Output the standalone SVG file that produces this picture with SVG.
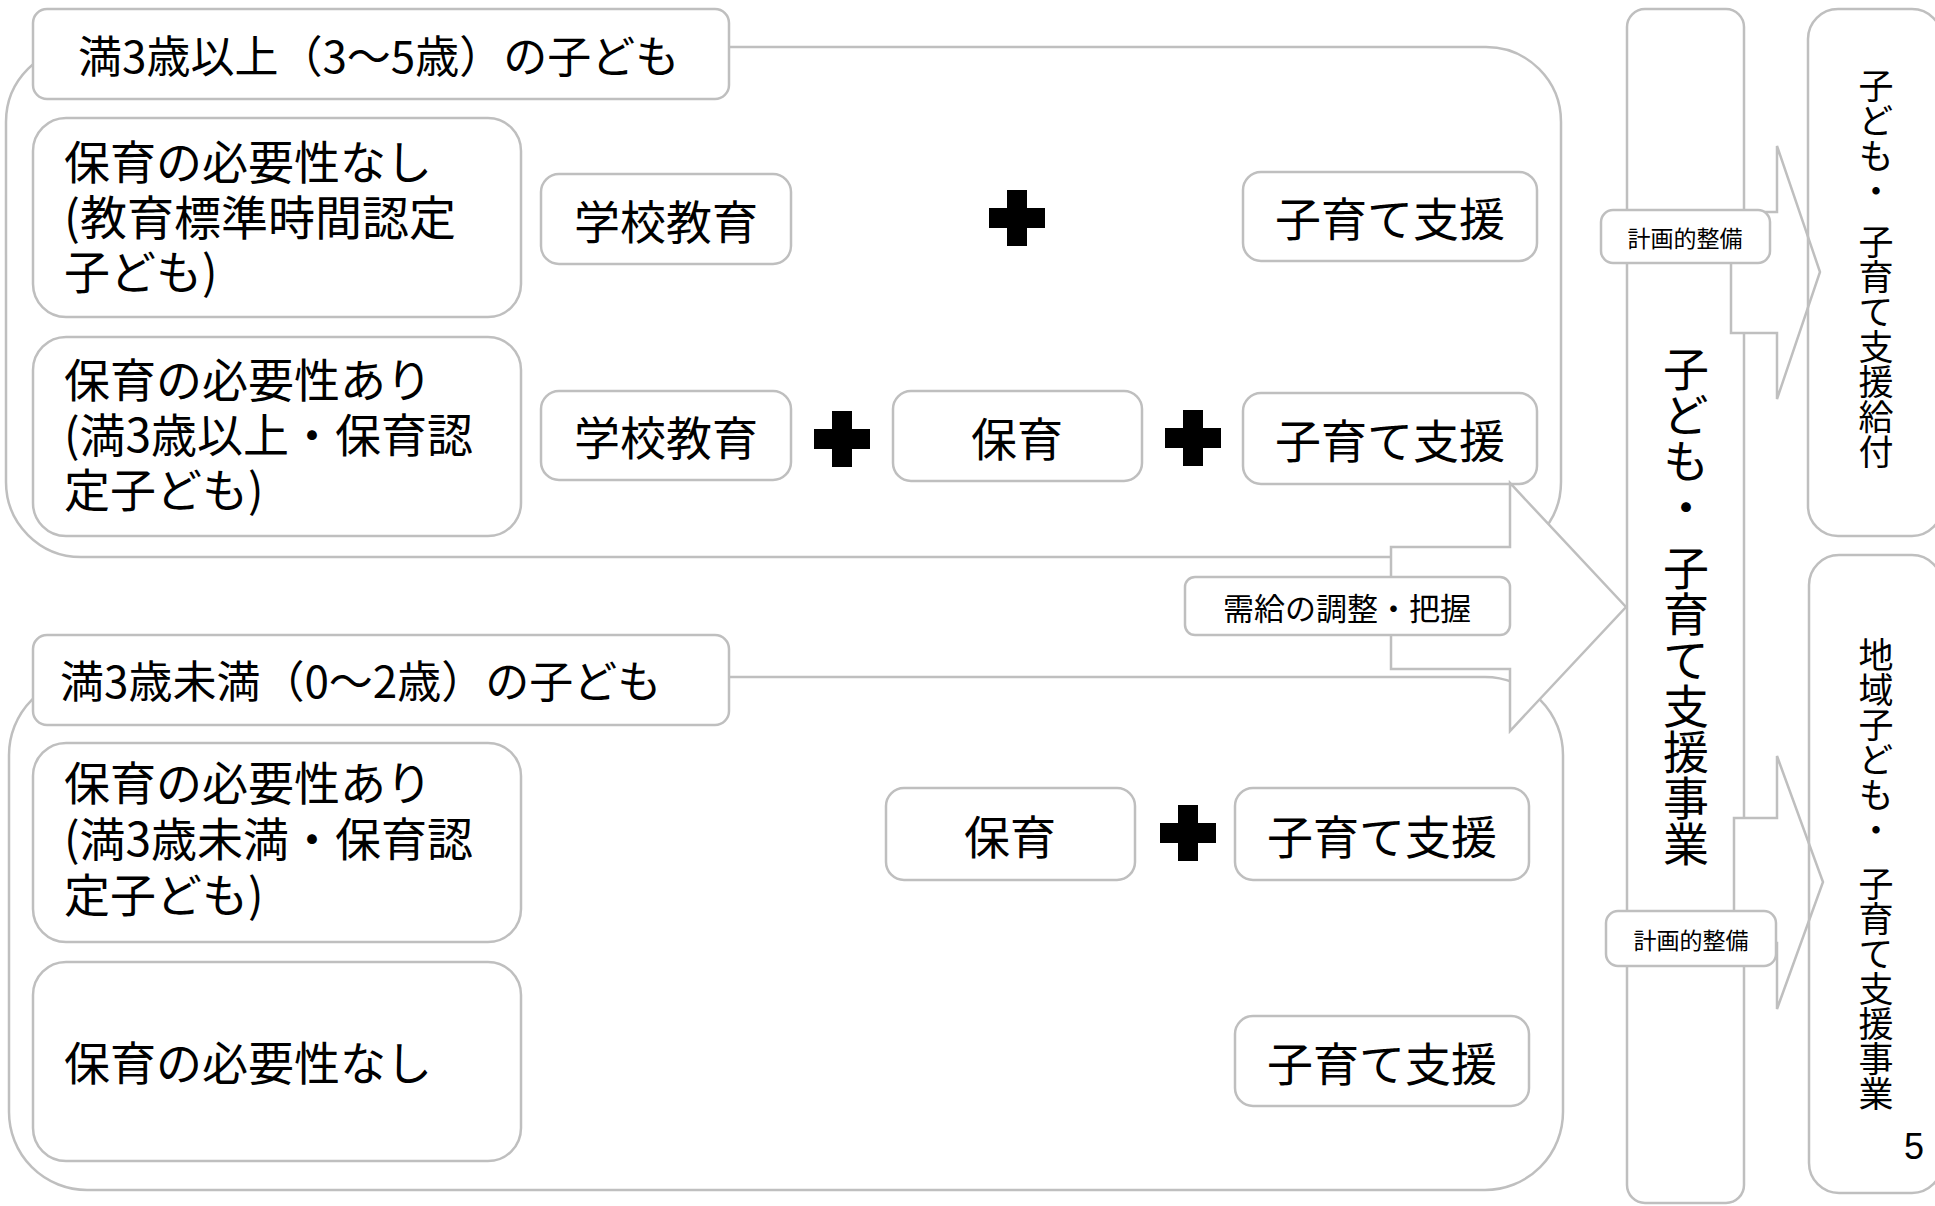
<svg xmlns="http://www.w3.org/2000/svg" width="1935" height="1206" viewBox="0 0 1935 1206">
<style>
  .box { fill: #ffffff; stroke: #bfbfbf; stroke-width: 2.5; }
  .open { fill: none; stroke: #bfbfbf; stroke-width: 2.5; }
  .arrow { fill: #ffffff; stroke: #bfbfbf; stroke-width: 2.5; stroke-linejoin: miter; }
  .t { font-family: "Noto Sans CJK JP", "Liberation Sans", sans-serif; fill: #000000; dominant-baseline: central; }
  .big { font-size: 46px; }
  .ttl { font-size: 44px; }
  .mid { text-anchor: middle; }
  .small { font-size: 23px; }
  .lbl { font-size: 31px; }
  .v { font-family: "Noto Sans CJK JP", "Liberation Sans", sans-serif; fill: #000000; writing-mode: vertical-rl; text-orientation: upright; text-anchor: start; }
  .vcol { font-size: 46px; }
  .vr { font-size: 35px; }
  .plus { fill: #000000; }
</style>
<defs>
  <path id="plusShape" d="M-10,-28 H10 V-10 H28 V10 H10 V28 H-10 V10 H-28 V-10 H-10 Z"/>
</defs>

<!-- upper group frame -->
<g id="group-over3">
  <rect class="box" x="6" y="47" width="1555" height="510" rx="75"/>
</g>
<g id="title-over3">
  <rect class="box" x="33" y="9" width="696" height="90" rx="14"/>
  <text class="t ttl" x="78" y="54">満3歳以上（3〜5歳）の子ども</text>
</g>
<g id="need-none-over3">
  <rect class="box" x="33" y="118" width="488" height="199" rx="33"/>
  <text class="t big"><tspan x="64" y="159">保育の必要性なし</tspan><tspan x="64" y="214" font-size="47">(教育標準時間認定</tspan><tspan x="64" y="269">子ども)</tspan></text>
</g>
<g id="need-yes-over3">
  <rect class="box" x="33" y="337" width="488" height="199" rx="33"/>
  <text class="t big"><tspan x="64" y="377">保育の必要性あり</tspan><tspan x="64" y="432">(満3歳以上・保育認</tspan><tspan x="64" y="487">定子ども)</tspan></text>
</g>
<g id="school-1">
  <rect class="box" x="541" y="174" width="250" height="90" rx="18"/>
  <text class="t big mid" x="666" y="219">学校教育</text>
</g>
<g id="plus-1"><use href="#plusShape" class="plus" x="1017" y="218"/></g>
<g id="support-1">
  <rect class="box" x="1243" y="172" width="294" height="89" rx="18"/>
  <text class="t big mid" x="1390" y="216">子育て支援</text>
</g>
<g id="school-2">
  <rect class="box" x="541" y="391" width="250" height="89" rx="18"/>
  <text class="t big mid" x="666" y="435">学校教育</text>
</g>
<g id="plus-2"><use href="#plusShape" class="plus" x="842" y="439"/></g>
<g id="care-1">
  <rect class="box" x="893" y="391" width="249" height="90" rx="18"/>
  <text class="t big mid" x="1017" y="436">保育</text>
</g>
<g id="plus-3"><use href="#plusShape" class="plus" x="1193" y="438"/></g>
<g id="support-2">
  <rect class="box" x="1243" y="393" width="294" height="91" rx="18"/>
  <text class="t big mid" x="1390" y="438">子育て支援</text>
</g>

<!-- lower group frame -->
<g id="group-under3">
  <rect class="box" x="9" y="677" width="1554" height="513" rx="78"/>
</g>
<g id="title-under3">
  <rect class="box" x="33" y="635" width="696" height="90" rx="14"/>
  <text class="t ttl" x="60" y="679">満3歳未満（0〜2歳）の子ども</text>
</g>
<g id="need-yes-under3">
  <rect class="box" x="33" y="743" width="488" height="199" rx="33"/>
  <text class="t big"><tspan x="64" y="780">保育の必要性あり</tspan><tspan x="64" y="836">(満3歳未満・保育認</tspan><tspan x="64" y="892">定子ども)</tspan></text>
</g>
<g id="need-none-under3">
  <rect class="box" x="33" y="962" width="488" height="199" rx="33"/>
  <text class="t big" x="64" y="1060">保育の必要性なし</text>
</g>
<g id="care-2">
  <rect class="box" x="886" y="788" width="249" height="92" rx="18"/>
  <text class="t big mid" x="1010" y="834">保育</text>
</g>
<g id="plus-4"><use href="#plusShape" class="plus" x="1188" y="833"/></g>
<g id="support-3">
  <rect class="box" x="1235" y="788" width="294" height="92" rx="18"/>
  <text class="t big mid" x="1382" y="834">子育て支援</text>
</g>
<g id="support-4">
  <rect class="box" x="1235" y="1016" width="294" height="90" rx="18"/>
  <text class="t big mid" x="1382" y="1061">子育て支援</text>
</g>

<!-- central column -->
<g id="plan-column">
  <rect class="box" x="1627" y="9" width="117" height="1194" rx="18"/>
  <text class="v vcol" x="1686" y="346">子ども・<tspan dy="15">子育て支援事業</tspan></text>
</g>

<!-- connectors -->
<g id="connectors">
  <path class="arrow" d="M1391,547 L1510,547 L1510,483 L1626,607 L1510,731 L1510,669 L1391,669 Z"/>
  <path class="arrow" d="M1731,212 L1777,212 L1777,146 L1820,272 L1777,399 L1777,333 L1731,333 Z"/>
  <path class="arrow" d="M1734,818 L1777,818 L1777,756 L1823,882 L1777,1009 L1777,943 L1734,943 Z"/>
</g>

<g id="label-demand">
  <rect class="box" x="1185" y="577" width="325" height="58" rx="10"/>
  <text class="t lbl mid" x="1347" y="606">需給の調整・把握</text>
</g>
<g id="label-plan-1">
  <rect class="box" x="1601" y="210" width="169" height="53" rx="12"/>
  <text class="t small mid" x="1685" y="237">計画的整備</text>
</g>
<g id="label-plan-2">
  <rect class="box" x="1606" y="911" width="170" height="55" rx="12"/>
  <text class="t small mid" x="1691" y="939">計画的整備</text>
</g>

<!-- right outputs -->
<g id="benefit">
  <rect class="open" x="1808" y="9" width="134" height="527" rx="30"/>
  <text class="v vr" x="1876" y="68">子ども・<tspan dy="16">子育て支援給付</tspan></text>
</g>
<g id="community-project">
  <rect class="open" x="1809" y="555" width="133" height="638" rx="30"/>
  <text class="v vr" x="1876" y="637">地域子ども・<tspan dy="19">子育て支援事業</tspan></text>
</g>
<text id="page-number" x="1914" y="1159" font-family="Liberation Sans, Arial, sans-serif" font-size="36" text-anchor="middle" fill="#000000">5</text>
</svg>
